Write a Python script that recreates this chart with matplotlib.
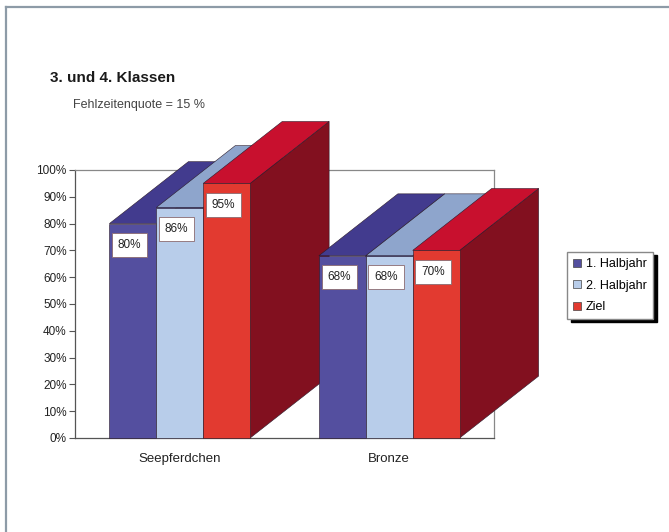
import matplotlib
matplotlib.use("Agg")
import matplotlib.pyplot as plt
from matplotlib.patches import Polygon, Patch
from matplotlib.lines import Line2D

plt.rcParams["font.family"] = ["Liberation Sans", "DejaVu Sans"]

# ---- data -------------------------------------------------------------
categories = ["Seepferdchen", "Bronze"]
series_names = ["1. Halbjahr", "2. Halbjahr", "Ziel"]
halbjahr_1 = [80, 68]
halbjahr_2 = [86, 68]
ziel = [95, 70]
y_ticks = [0, 10, 20, 30, 40, 50, 60, 70, 80, 90, 100]
y_tick_labels = [f"{t}%" for t in y_ticks]

title = "3. und 4. Klassen"
subtitle = "Fehlzeitenquote = 15 %"

# ---- styling ----------------------------------------------------------
front_colors = ["#544f9f", "#b8cdea", "#e23a30"]
top_colors = ["#423b8e", "#8ea5cc", "#c8102e"]
side_colors = ["#2e2870", "#6e83ac", "#82101f"]
edge_color = "#2a1a2a"

W, H = 669, 532
fig = plt.figure(figsize=(W / 100, H / 100), dpi=100)

# plot area
ax = fig.add_axes([75 / W, 1 - 438 / H, (494 - 75) / W, (438 - 170) / H])
ax.set_xlim(0, len(categories))
ax.set_ylim(0, 100)

bar_w = 0.224      # width of one bar in category units
depth_x = 0.377    # oblique depth, x component (category units)
depth_y = 23.1     # oblique depth, y component (percent units)

series = [halbjahr_1, halbjahr_2, ziel]
z = 3
for i, cat in enumerate(categories):
    center = i + 0.5
    for j, vals in enumerate(series):
        v = vals[i]
        x0 = center + (j - 1) * bar_w - bar_w / 2
        x1 = x0 + bar_w
        side = [(x1, 0), (x1 + depth_x, depth_y), (x1 + depth_x, v + depth_y), (x1, v)]
        top = [(x0, v), (x1, v), (x1 + depth_x, v + depth_y), (x0 + depth_x, v + depth_y)]
        front = [(x0, 0), (x1, 0), (x1, v), (x0, v)]
        for poly, col in ((side, side_colors[j]), (top, top_colors[j]), (front, front_colors[j])):
            ax.add_patch(Polygon(poly, closed=True, facecolor=col, edgecolor=edge_color,
                                 linewidth=0.4, clip_on=False, zorder=z))
            z += 0.01

# value labels on the front faces
for i in range(len(categories)):
    center = i + 0.5
    for j, vals in enumerate(series):
        v = vals[i]
        xc = center + (j - 1) * bar_w - 0.015
        ax.annotate(f"{v}%", xy=(xc, v), xytext=(0, -15.5), textcoords="offset points",
                    ha="center", va="center", fontsize=8.5, color="#222222",
                    bbox=dict(boxstyle="square,pad=0.5", fc="white", ec="#8a6a70", lw=0.6),
                    zorder=20, annotation_clip=False)

# axes styling
ax.set_yticks(y_ticks)
ax.set_yticklabels(y_tick_labels, fontsize=8.5, color="#222222")
ax.set_xticks([i + 0.5 for i in range(len(categories))])
ax.set_xticklabels(categories, fontsize=9.5, color="#222222")
ax.tick_params(axis="y", length=4, width=0.8, color="#555555", pad=2)
ax.tick_params(axis="x", length=0, pad=11)
for s in ax.spines.values():
    s.set_color("#888888")
    s.set_linewidth(0.9)
    s.set_zorder(2)
ax.spines["left"].set_color("#555555")
ax.spines["bottom"].set_color("#555555")
ax.set_facecolor("white")

# titles
fig.text(50 / W, 1 - 78 / H, title, fontsize=11, fontweight="bold", color="#1a1a1a",
         ha="left", va="center")
fig.text(73 / W, 1 - 105 / H, subtitle, fontsize=9, color="#444444",
         ha="left", va="center")

# legend
handles = [Patch(facecolor=front_colors[k], edgecolor="#444444", linewidth=0.5)
           for k in range(len(series_names))]
fig.legend(handles, series_names, loc="upper left", bbox_to_anchor=(567 / W, 1 - 252 / H),
           fontsize=9, frameon=True, fancybox=False, edgecolor="#888888",
           handlelength=0.6, handleheight=0.6, handletextpad=0.4, labelspacing=0.75,
           borderpad=0.5, borderaxespad=0,
           shadow=dict(ox=3, oy=-2, color="black", alpha=1))

# outer chart border (left and top edges)
fig.add_artist(Line2D([6.5 / W, 6.5 / W], [0, 1 - 7 / H], transform=fig.transFigure,
                      color="#8d9ba7", lw=1.6))
fig.add_artist(Line2D([6.5 / W, 1], [1 - 7 / H, 1 - 7 / H], transform=fig.transFigure,
                      color="#8d9ba7", lw=1.6))

fig.savefig("out.png", dpi=100)
